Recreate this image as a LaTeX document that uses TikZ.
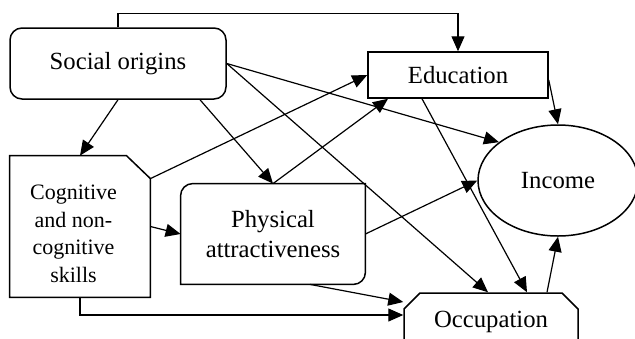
\documentclass[tikz,border=0pt]{standalone}
\usepackage{fontspec}
\setmainfont{Liberation Serif}
\usetikzlibrary{positioning}
\usetikzlibrary{shapes.geometric,shapes.misc}
\usetikzlibrary{arrows.meta}

\begin{document}
\begin{tikzpicture}[x=0.5pt,y=-0.5pt,
 every node/.style={font=\fontsize{12.35}{15}\selectfont},
 box/.style={draw, line width=0.75pt},
 link/.style={-{Triangle[length=7.5pt,width=6.5pt]}, line width=0.6pt}]
\useasboundingbox (0,0) rectangle (635,338);

\node[box, rounded corners=6pt, minimum width=108pt, minimum height=35.5pt] (soc) at (118,63.5) {Social origins};
\node[box, minimum width=90pt, minimum height=23pt] (edu) at (458,75) {Education};
\node[box, ellipse, minimum width=80pt, minimum height=55.5pt] (inc) at (558,180.5) {Income};

\node[minimum width=70pt, minimum height=70.5pt, inner sep=0pt] (cog) at (80,226.5) {};
\draw[line width=0.75pt] (cog.north west) -- ([xshift=-12pt]cog.north east)
 -- ([yshift=-11.5pt]cog.north east) -- (cog.south east) -- (cog.south west) -- cycle;
\node[align=center, font=\fontsize{11}{13.75}\selectfont] (cogtext) at ([xshift=-3.25pt,yshift=-3.75pt]cog.center) {Cognitive\\and non-\\cognitive\\skills};

\node[align=center, minimum width=92pt, minimum height=50pt, inner sep=0pt] (phys) at (273,234) {Physical\\attractiveness};
\draw[line width=0.75pt] (phys.south west) -- ([yshift=-6pt]phys.north west)
 arc[start angle=180, end angle=90, radius=6pt] -- (phys.north east)
 -- ([yshift=6pt]phys.south east) arc[start angle=0, end angle=-90, radius=6pt] -- cycle;

\node[box, chamfered rectangle, chamfered rectangle corners={north west,north east},
 chamfered rectangle xsep=4pt, chamfered rectangle ysep=4pt,
 minimum width=87pt, minimum height=29pt] (occ) at (491,322) {Occupation};

\draw[link] (soc.north) -- ++(0,-14) -| (edu.north);
\draw[link] (soc.south) -- (cog.north);
\draw[link] ([xshift=41pt]soc.south) -- (phys.north);
\draw[link] (soc.east) -- (inc.147);
\draw[link] (soc.east) -- ([xshift=-1.5pt]occ.north);
\draw[link] ([yshift=-11.5pt]cog.north east) -- (edu.west);
\draw[link] (cog.east) -- (phys.west);
\draw[link] (cog.south) |- ([yshift=3.5pt]occ.west);
\draw[link] (phys.north) -- ([xshift=-35pt]edu.south);
\draw[link] (phys.east) -- (inc.west);
\draw[link] ([xshift=18.5pt]phys.south) -- ([yshift=10pt]occ.west);
\draw[link] ([xshift=-18pt]edu.south) -- ([xshift=18pt]occ.north);
\draw[link] ([yshift=-2.5pt]edu.east) -- (inc.north);
\draw[link] ([xshift=28pt]occ.north) -- (inc.south);
\end{tikzpicture}
\end{document}
